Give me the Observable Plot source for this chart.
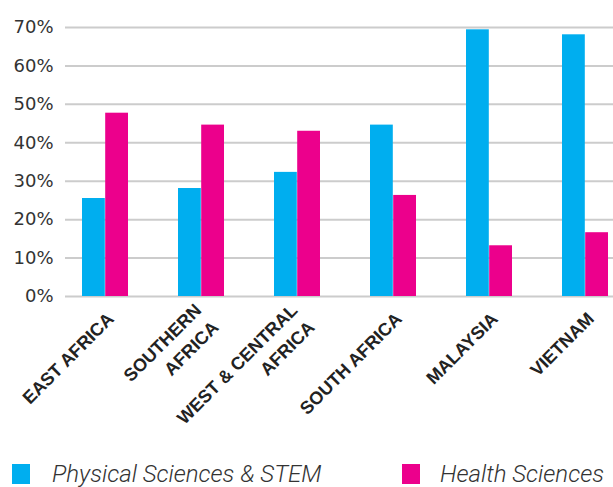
<!DOCTYPE html>
<html><head><meta charset="utf-8">
<script src="https://cdn.jsdelivr.net/npm/d3@7"></script>
<script src="https://cdn.jsdelivr.net/npm/@observablehq/plot@0.6"></script>
<style>
body{margin:0;overflow:hidden;background:#fff;}
#legend{position:relative;height:42px;font-family:Roboto,"Liberation Sans",sans-serif;font-style:italic;font-weight:300;font-size:24px;color:#333;}
.item{position:absolute;top:19px;display:flex;align-items:center;height:20px;white-space:nowrap;}
.sw{width:18px;height:20px;display:inline-block;}
</style></head><body><div id="chart"></div><div id="legend"></div>
<script>
const regions = ["EAST AFRICA","SOUTHERN\nAFRICA","WEST & CENTRAL\nAFRICA","SOUTH AFRICA","MALAYSIA","VIETNAM"];
const physicalSTEM = [25.5,28.1,32.3,44.6,69.4,68.1];
const healthSciences = [47.7,44.6,43.0,26.3,13.2,16.6];
const seriesNames = ["Physical Sciences & STEM","Health Sciences"];
const seriesColors = ["#00AEEF","#EC008C"];
const yTicks = [0,10,20,30,40,50,60,70];

const stemRows = regions.map((r,i)=>({region:r, series:seriesNames[0], value:physicalSTEM[i]}));
const healthRows = regions.map((r,i)=>({region:r, series:seriesNames[1], value:healthSciences[i]}));

const xRange = [55, 635];
const padIn = 0.52;
const step = (xRange[1]-xRange[0])/regions.length;
const bw = step*(1-padIn);

const chart = Plot.plot({
  width: 613,
  height: 445,
  marginLeft: 65,
  marginRight: 0,
  marginTop: 27,
  marginBottom: 149,
  style: {fontFamily: "DejaVu Sans, sans-serif", color: "#333", background: "#fff"},
  x: {domain: regions, range: xRange, paddingInner: padIn, paddingOuter: padIn/2, label: null},
  y: {domain: [0,70], label: null},
  marks: [
    Plot.ruleY(yTicks, {stroke: "#cccccc", strokeWidth: 2}),
    Plot.barY(stemRows, {x: "region", y: "value", fill: seriesColors[0], insetRight: bw/2}),
    Plot.barY(healthRows, {x: "region", y: "value", fill: seriesColors[1], insetLeft: bw/2}),
    Plot.axisY({ticks: yTicks, tickFormat: d => d + "%", tickSize: 0, tickPadding: 12, fontSize: 18, label: null}),
    Plot.axisX({tickRotate: -45, tickSize: 0, tickPadding: 18, dx: 4, fontSize: 18, lineHeight: 1.35, fontWeight: "bold", fontFamily: "Liberation Sans, Arial, sans-serif", fill: "#222", label: null})
  ]
});
document.getElementById("chart").appendChild(chart);

const legend = document.getElementById("legend");
const lx = [[12, 52], [402, 440]];
seriesNames.forEach((name, i) => {
  const sw = document.createElement("div");
  sw.className = "item";
  sw.style.left = lx[i][0] + "px";
  sw.innerHTML = `<span class="sw" style="background:${seriesColors[i]}"></span>`;
  legend.appendChild(sw);
  const t = document.createElement("div");
  t.className = "item";
  t.style.left = lx[i][1] + "px";
  t.textContent = name;
  legend.appendChild(t);
});
</script>
</body></html>
